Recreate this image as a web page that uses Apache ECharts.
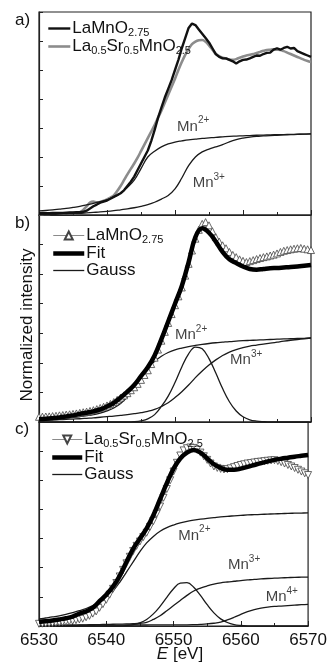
<!DOCTYPE html>
<html><head><meta charset="utf-8">
<script src="https://cdn.jsdelivr.net/npm/echarts@6/dist/echarts.min.js"></script>
<style>html,body{margin:0;padding:0;background:#fff}#c{width:330px;height:670px}</style>
</head><body><div id="c"></div>
<script>
// ---------- energies ----------
const E_FINE = [
6530,6530.5,6531,6531.5,6532,6532.5,6533,6533.5,6534,6534.5,
6535,6535.5,6536,6536.5,6537,6537.5,6538,6538.5,6539,6539.5,
6540,6540.5,6541,6541.5,6542,6542.5,6543,6543.5,6544,6544.5,
6545,6545.5,6546,6546.5,6547,6547.5,6548,6548.5,6549,6549.5,
6550,6550.5,6551,6551.5,6552,6552.5,6553,6553.5,6554,6554.5,
6555,6555.5,6556,6556.5,6557,6557.5,6558,6558.5,6559,6559.5,
6560,6560.5,6561,6561.5,6562,6562.5,6563,6563.5,6564,6564.5,
6565,6565.5,6566,6566.5,6567,6567.5,6568,6568.5,6569,6569.5,
6570];
const E_COARSE = [
6530,6531,6532,6533,6534,6535,6536,6537,6538,6539,
6540,6541,6542,6543,6544,6545,6546,6547,6548,6549,
6550,6551,6552,6553,6554,6555,6556,6557,6558,6559,
6560,6561,6562,6563,6564,6565,6566,6567,6568,6569,
6570];

// ---------- panel a ----------
const a_LaMnO275 = [
.012,.012,.013,.013,.014,.014,.015,.015,.016,.017,
.018,.019,.020,.022,.030,.045,.060,.072,.085,.093,
.100,.112,.125,.137,.150,.170,.200,.230,.265,.310,
.355,.400,.445,.510,.585,.670,.740,.810,.870,.930,
1.000,1.070,1.150,1.220,1.290,1.320,1.310,1.280,1.250,1.220,
1.190,1.150,1.110,1.090,1.080,1.080,1.070,1.060,1.045,1.060,
1.070,1.072,1.080,1.090,1.100,1.098,1.110,1.118,1.120,1.140,
1.150,1.140,1.152,1.160,1.148,1.152,1.130,1.120,1.110,1.100,
1.090];
const a_LaSrMnO25 = [
.005,.006,.007,.008,.009,.010,.010,.011,.012,.013,
.014,.016,.020,.035,.060,.085,.092,.088,.090,.098,
.108,.120,.135,.165,.200,.240,.280,.318,.355,.395,
.440,.485,.530,.575,.620,.670,.720,.775,.830,.885,
.940,1.000,1.055,1.105,1.145,1.178,1.195,1.205,1.207,1.195,
1.170,1.140,1.110,1.095,1.085,1.078,1.072,1.070,1.075,1.085,
1.093,1.100,1.105,1.110,1.118,1.125,1.132,1.138,1.140,1.142,
1.140,1.138,1.130,1.120,1.110,1.100,1.090,1.080,1.070,1.062,
1.055];
const a_Mn2 = [
.028,.031,.035,.040,.045,.052,.060,.070,.080,.092,
.105,.125,.150,.190,.240,.320,.400,.440,.470,.490,
.503,.511,.518,.523,.528,.532,.536,.539,.542,.544,
.546,.548,.550,.551,.553,.554,.555,.556,.557,.558,
.559];
const a_Mn3 = [
.003,.004,.005,.006,.008,.010,.012,.015,.018,.021,
.025,.030,.036,.042,.050,.060,.072,.088,.110,.135,
.180,.255,.340,.400,.435,.455,.470,.485,.505,.520,
.530,.537,.542,.545,.548,.550,.552,.554,.556,.558,
.559];

// ---------- panel b ----------
const b_data = [
.035,.036,.037,.038,.040,.042,.045,.047,.050,.052,
.055,.058,.062,.066,.070,.075,.080,.087,.095,.103,
.112,.122,.135,.150,.165,.180,.195,.215,.235,.258,
.285,.318,.350,.392,.435,.490,.550,.610,.670,.730,
.790,.850,.910,.990,1.070,1.160,1.240,1.300,1.340,1.352,
1.330,1.290,1.250,1.220,1.195,1.175,1.150,1.130,1.115,1.100,
1.090,1.082,1.088,1.095,1.102,1.109,1.115,1.120,1.126,1.132,
1.140,1.150,1.158,1.163,1.168,1.172,1.175,1.177,1.172,1.168,
1.163];
const b_fit = [
.020,.022,.026,.031,.038,.045,.055,.063,.072,.085,
.105,.130,.165,.205,.250,.310,.370,.450,.560,.680,
.800,.920,1.080,1.250,1.310,1.280,1.220,1.150,1.100,1.075,
1.052,1.035,1.030,1.035,1.040,1.042,1.045,1.048,1.052,1.057,
1.062];
const b_Mn2 = [
.018,.020,.022,.025,.028,.032,.037,.043,.050,.060,
.075,.095,.125,.170,.230,.295,.360,.410,.445,.470,
.488,.500,.510,.518,.525,.531,.536,.540,.544,.547,
.550,.552,.554,.556,.558,.560,.562,.563,.565,.566,
.568];
const b_Mn3 = [
.012,.013,.014,.016,.018,.020,.022,.025,.028,.032,
.036,.040,.045,.050,.056,.063,.072,.085,.105,.130,
.165,.205,.250,.300,.345,.385,.420,.450,.473,.490,
.503,.513,.520,.527,.533,.540,.547,.553,.558,.563,
.568];
const b_gauss = [
0,0,0,0,0,0,0,0,0,0,
0,0,0,0,.002,.008,.021,.050,.105,.175,
.267,.372,.461,.507,.495,.429,.331,.226,.137,.074,
.035,.015,.006,.002,0,0,0,0,0,0,
0];

// ---------- panel c ----------
const c_data = [
.015,.016,.017,.018,.020,.022,.024,.027,.030,.033,
.036,.040,.045,.050,.060,.070,.085,.100,.125,.150,
.180,.215,.255,.295,.340,.385,.430,.475,.515,.550,
.580,.610,.640,.680,.720,.770,.820,.880,.940,1.000,
1.060,1.120,1.170,1.205,1.220,1.225,1.222,1.210,1.190,1.165,
1.140,1.115,1.095,1.085,1.078,1.074,1.076,1.082,1.090,1.098,
1.105,1.110,1.115,1.118,1.122,1.126,1.128,1.131,1.134,1.136,
1.138,1.132,1.124,1.115,1.105,1.095,1.084,1.072,1.060,1.048,
1.036];
const c_fit = [
.027,.032,.038,.045,.053,.065,.085,.100,.125,.170,
.215,.270,.345,.440,.530,.600,.670,.760,.870,.980,
1.080,1.150,1.190,1.208,1.190,1.150,1.110,1.085,1.072,1.072,
1.080,1.092,1.105,1.118,1.130,1.140,1.148,1.155,1.162,1.168,
1.174];
const c_Mn2 = [
.048,.055,.062,.070,.080,.092,.105,.120,.140,.165,
.195,.240,.300,.370,.440,.510,.570,.615,.650,.675,
.693,.707,.718,.726,.733,.739,.744,.749,.753,.756,
.759,.762,.764,.766,.768,.770,.771,.773,.774,.775,
.776];
const c_Mn3 = [
.004,.004,.005,.005,.006,.006,.007,.008,.009,.010,
.011,.012,.013,.014,.016,.019,.025,.045,.070,.105,
.140,.175,.210,.240,.260,.275,.287,.296,.302,.307,
.312,.316,.320,.323,.326,.328,.330,.332,.334,.335,
.336];
const c_Mn4 = [
.004,.004,.004,.004,.005,.005,.005,.005,.005,.006,
.006,.006,.006,.007,.007,.007,.007,.008,.008,.008,
.008,.008,.008,.009,.011,.014,.019,.027,.042,.060,
.080,.098,.112,.122,.129,.134,.137,.140,.143,.146,
.148];
const c_gauss = [
0,0,0,0,0,0,0,0,0,0,
0,0,0,.003,.009,.022,.045,.083,.135,.196,
.256,.294,.297,.266,.210,.146,.090,.049,.024,.010,
.004,.001,0,0,0,0,0,0,0,0,
0];

// ---------- axis ranges ----------
const X_MIN = 6530, X_MAX = 6570, X_STEP = 10;
const Y_MIN = 0, Y_MAX = 1.4, Y_STEP = 0.2;

// ---------- annotations ----------
const ANN_PANEL = [0, 0, 1, 1, 2, 2, 2];
const ANN_SUP   = ['2+', '3+', '2+', '3+', '2+', '3+', '4+'];
const ANN_E     = [6550.3, 6552.6, 6550.0, 6558.1, 6550.7, 6558.1, 6563.7];
const ANN_Y     = [0.61, 0.22, 0.59, 0.42, 0.62, 0.42, 0.20];

// ---------- build ----------
const FONT = '"Liberation Sans", Arial, Helvetica, sans-serif';
const INK = '#1a1a1a';
const W_THIN = 1.3, W_FIT = 4.5, W_A_BLACK = 2.4, W_A_GRAY = 2.6, W_DATA = 1;
const zip = (xs, ys) => xs.map((x, i) => [x, ys[i]]);
const chart = echarts.init(document.getElementById('c'));

const GRID_TOPS = [12, 215, 422], GRID_H = [203, 207, 204];
const grid = GRID_TOPS.map((t, i) => ({left: 39, right: 19, top: t, height: GRID_H[i],
  show: true, borderColor: '#222', borderWidth: 1.2, backgroundColor: 'transparent'}));

const xAxis = [0, 1, 2].map(i => ({
  type: 'value', gridIndex: i, min: X_MIN, max: X_MAX, interval: X_STEP,
  axisLine: {show: true, onZero: false, lineStyle: {color: '#222', width: 1.2}},
  axisTick: {show: true, inside: true, length: 5, lineStyle: {color: '#222', width: 1}},
  minorTick: {show: true, splitNumber: 2, length: 3, lineStyle: {color: '#222', width: 1}},
  axisLabel: {show: i === 2, fontSize: 17, color: '#111', fontFamily: FONT, margin: 6,
    formatter: v => String(v)},
  splitLine: {show: false}
}));
const yAxis = [0, 1, 2].map(i => ({
  type: 'value', gridIndex: i, min: Y_MIN, max: Y_MAX, interval: Y_STEP,
  axisLine: {show: true, onZero: false, lineStyle: {color: '#222', width: 1.2}},
  axisTick: {show: true, inside: true, length: 4, lineStyle: {color: '#222', width: 1}},
  axisLabel: {show: false}, splitLine: {show: false}
}));

function thin(name, g, ys) {
  return {name, type: 'line', xAxisIndex: g, yAxisIndex: g, data: zip(E_COARSE, ys),
    smooth: 0.4, showSymbol: false, symbol: 'none', z: 2,
    lineStyle: {color: INK, width: W_THIN}, itemStyle: {color: INK}};
}
function fit(name, g, ys) {
  return {name, type: 'line', xAxisIndex: g, yAxisIndex: g, data: zip(E_COARSE, ys),
    smooth: 0.4, showSymbol: false, symbol: 'none', z: 4,
    lineStyle: {color: '#000', width: W_FIT}, itemStyle: {color: '#000'}};
}
function tri(name, g, ys, rot) {
  return {name, type: 'line', xAxisIndex: g, yAxisIndex: g, data: zip(E_FINE, ys),
    symbol: 'triangle', symbolSize: 7, symbolRotate: rot, showAllSymbol: true, z: 3,
    lineStyle: {color: '#8a8a8a', width: W_DATA},
    itemStyle: {color: '#fff', borderColor: '#444', borderWidth: 0.8}};
}

const series = [
  {name: 'a_gray', type: 'line', xAxisIndex: 0, yAxisIndex: 0, data: zip(E_FINE, a_LaSrMnO25),
   smooth: 0.3, showSymbol: false, symbol: 'none', z: 2, lineStyle: {color: '#8c8c8c', width: W_A_GRAY}, itemStyle: {color: '#8c8c8c'}},
  {name: 'a_black', type: 'line', xAxisIndex: 0, yAxisIndex: 0, data: zip(E_FINE, a_LaMnO275),
   showSymbol: false, symbol: 'none', z: 3, lineStyle: {color: '#111', width: W_A_BLACK}, itemStyle: {color: '#111'}},
  thin('a_Mn2', 0, a_Mn2), thin('a_Mn3', 0, a_Mn3),

  tri('b_data', 1, b_data, 0), fit('Fit', 1, b_fit),
  thin('Gauss', 1, b_gauss), thin('b_Mn2', 1, b_Mn2), thin('b_Mn3', 1, b_Mn3),

  tri('c_data', 2, c_data, 180), fit('Fit', 2, c_fit),
  thin('Gauss', 2, c_gauss), thin('c_Mn2', 2, c_Mn2), thin('c_Mn3', 2, c_Mn3), thin('c_Mn4', 2, c_Mn4)
];

const RICH = {
  m: {fontSize: 17, fontFamily: FONT, color: '#111'},
  s: {fontSize: 11, fontFamily: FONT, color: '#111', padding: [8, 0, 0, 0]},
  n: {fontSize: 15, fontFamily: FONT, color: '#111'},
  p: {fontSize: 10, fontFamily: FONT, color: '#111', padding: [0, 0, 12, 0]}
};

[0, 1, 2].forEach(g => {
  const idx = ANN_PANEL.map((p, i) => p === g ? i : -1).filter(i => i >= 0);
  series.push({
    name: 'ann' + g, type: 'scatter', xAxisIndex: g, yAxisIndex: g, symbolSize: 0, z: 6,
    data: idx.map(i => ({value: [ANN_E[i], ANN_Y[i]], sup: ANN_SUP[i]})),
    label: {show: true, position: 'right', distance: 0,
      formatter: p => '{n|Mn}{p|' + p.data.sup + '}', rich: RICH},
    silent: true
  });
});

const LEG_TEXT = {
  'a_black': '{m|LaMnO}{s|2.75}',
  'a_gray': '{m|La}{s|0.5}{m|Sr}{s|0.5}{m|MnO}{s|2.5}',
  'b_data': '{m|LaMnO}{s|2.75}',
  'c_data': '{m|La}{s|0.5}{m|Sr}{s|0.5}{m|MnO}{s|2.5}',
  'Fit': '{m|Fit}', 'Gauss': '{m|Gauss}'
};
const legItem = (name, w, sym) => ({name, lineStyle: {width: w},
  itemStyle: sym ? {} : {opacity: 0}});
const legFmt = n => LEG_TEXT[n];
const legCommon = {orient: 'vertical', selectedMode: false, formatter: legFmt, itemGap: 0,
  textStyle: {rich: RICH, padding: [0, 0, 0, -3]}, inactiveColor: '#111'};
const legend = [
  Object.assign({}, legCommon, {left: 42, top: 15, itemWidth: 22, itemHeight: 12,
    data: [legItem('a_black', W_A_BLACK), legItem('a_gray', W_A_GRAY)]}),
  Object.assign({}, legCommon, {left: 46, top: 222, itemWidth: 31, itemHeight: 10,
    data: [legItem('b_data', W_DATA, true), legItem('Fit', W_FIT), legItem('Gauss', W_THIN)]}),
  Object.assign({}, legCommon, {left: 45, top: 426, itemWidth: 30, itemHeight: 10,
    data: [legItem('c_data', W_DATA, true), legItem('Fit', W_FIT), legItem('Gauss', W_THIN)]})
];

const txt = (text, x, y) => ({type: 'text', x, y,
  style: {text, fontSize: 17, fontFamily: FONT, fill: '#111'}});
const graphic = [
  txt('a)', 15, 12), txt('b)', 15, 215), txt('c)', 15, 421),
  {type: 'text', x: 27, y: 325, rotation: Math.PI / 2,
   style: {text: 'Normalized intensity', fontSize: 17, fontFamily: FONT, fill: '#111', align: 'center', verticalAlign: 'middle'}},
  {type: 'text', x: 180, y: 654,
   style: {text: '{i|E} [eV]', fontSize: 17, fontFamily: FONT, fill: '#111', align: 'center', verticalAlign: 'middle',
     rich: {i: {fontStyle: 'italic', fontSize: 17, fontFamily: FONT, fill: '#111'}}}}
];

chart.setOption({animation: false, backgroundColor: '#fff', grid, xAxis, yAxis, series, legend, graphic});
</script></body></html>
